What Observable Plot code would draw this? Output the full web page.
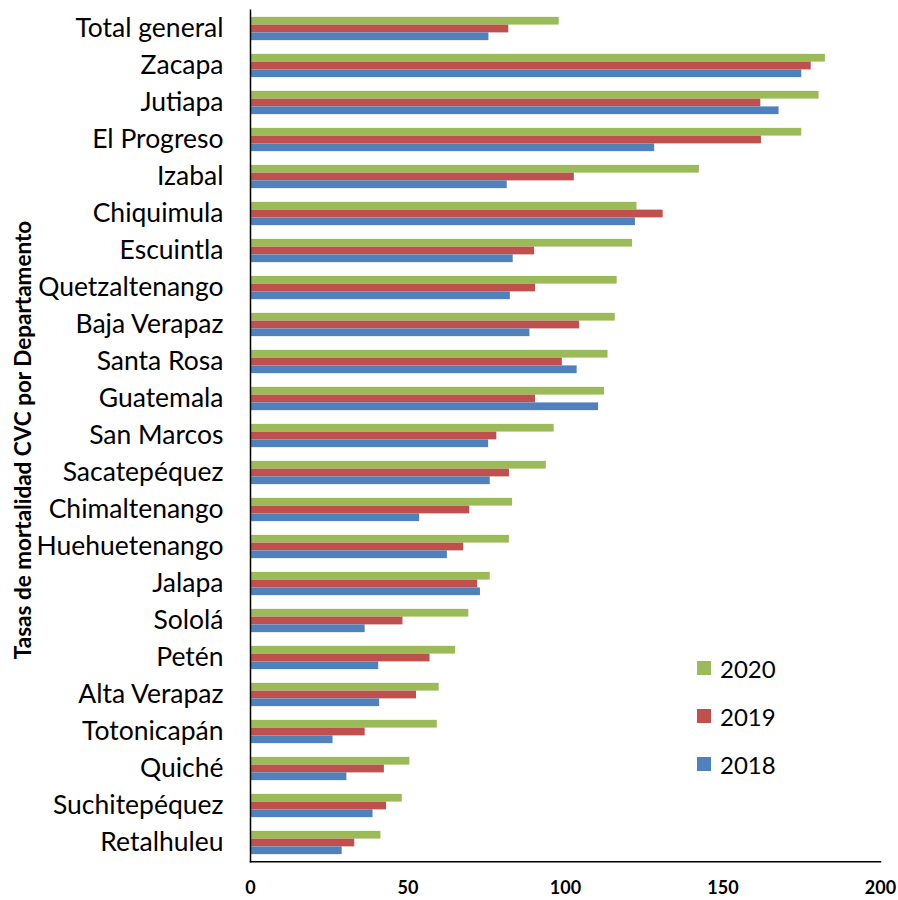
<!DOCTYPE html>
<html>
<head>
<meta charset="utf-8">
<script src="https://cdn.jsdelivr.net/npm/d3@7"></script>
<script src="https://cdn.jsdelivr.net/npm/@observablehq/plot@0.6"></script>
<style>
  html, body { margin: 0; padding: 0; background: #fff; }
  #wrap { position: relative; width: 898px; height: 900px; font-family: Lato, "Noto Sans", sans-serif; }
  #ytitle { position: absolute; left: 22px; top: 440px; transform: translate(-50%, -50%) rotate(-90deg); white-space: nowrap; font-weight: bold; font-size: 22.5px; color: #000; }
  .leg { position: absolute; left: 697px; display: flex; align-items: center; font-size: 24px; color: #000; }
  .leg span.sw { display: inline-block; width: 14px; height: 14px; margin-right: 9px; }
</style>
</head>
<body>
<div id="wrap"></div>
<script>
const departments = ["Total general","Zacapa","Jutiapa","El Progreso","Izabal","Chiquimula","Escuintla","Quetzaltenango","Baja Verapaz","Santa Rosa","Guatemala","San Marcos","Sacatepéquez","Chimaltenango","Huehuetenango","Jalapa","Sololá","Petén","Alta Verapaz","Totonicapán","Quiché","Suchitepéquez","Retalhuleu"];
const years = ["2020","2019","2018"];
const v2020 = [98, 182.5, 180.5, 175, 142.5, 122.7, 121.3, 116.4, 115.8, 113.5, 112.4, 96.4, 93.9, 83.2, 82.2, 76.1, 69.3, 65.1, 59.9, 59.3, 50.6, 48.2, 41.4];
const v2019 = [82, 178, 162, 162.2, 102.8, 131, 90.2, 90.5, 104.5, 99, 90.5, 78.2, 82.2, 69.6, 67.7, 72.1, 48.4, 57, 52.7, 36.4, 42.5, 43.2, 33.1];
const v2018 = [75.7, 175, 167.8, 128.3, 81.5, 122.2, 83.4, 82.5, 88.7, 103.7, 110.5, 75.6, 76.1, 53.7, 62.5, 73, 36.4, 40.7, 41, 26.2, 30.6, 38.9, 29.1];
const xTicks = [0, 50, 100, 150, 200];
const colors = {"2020": "#9BBB59", "2019": "#C0504D", "2018": "#4F81BD"};
const yTitle = "Tasas de mortalidad CVC por Departamento";

const W = 898, H = 900, mT = 9.7, mB = 38.7, mL = 250, mR = 18;
const band = (H - mT - mB) / departments.length;
const barH = band * 0.21;
const half = band / 2;
const series = {"2020": v2020, "2019": v2019, "2018": v2018};
const offsets = {"2020": -1.5, "2019": -0.5, "2018": 0.5};

const barMarks = years.map(yr => {
  const top = half + offsets[yr] * barH;
  return Plot.barX(departments, {
    x: (d, i) => series[yr][i],
    y: d => d,
    fill: colors[yr],
    insetTop: top,
    insetBottom: band - top - barH
  });
});

const chart = Plot.plot({
  width: W, height: H,
  marginTop: mT, marginBottom: mB, marginLeft: mL, marginRight: mR,
  style: {fontFamily: "Lato, 'Noto Sans', sans-serif", background: "#fff", color: "#000"},
  x: {domain: [0, 200], ticks: xTicks},
  y: {domain: departments, padding: 0},
  marks: [
    ...barMarks,
    Plot.frame({anchor: "left", stroke: "#000", strokeWidth: 1.5}),
    Plot.frame({anchor: "bottom", stroke: "#000", strokeWidth: 1.5}),
    Plot.axisX({ticks: xTicks, tickSize: 0, tickPadding: 19, fontSize: 18, fontWeight: "bold", label: null}),
    Plot.axisY({tickSize: 0, tickPadding: 27, fontSize: 26.5, label: null})
  ]
});
chart.querySelectorAll('[aria-label="x-axis tick label"] text').forEach(t => t.setAttribute("font-weight", "bold"));
const wrap = document.getElementById("wrap");
wrap.appendChild(chart);

const yt = document.createElement("div");
yt.id = "ytitle";
yt.textContent = yTitle;
wrap.appendChild(yt);

const legTops = {"2020": 668, "2019": 716, "2018": 764};
years.forEach(yr => {
  const d = document.createElement("div");
  d.className = "leg";
  d.style.top = (legTops[yr] - 14) + "px";
  d.style.height = "28px";
  d.innerHTML = `<span class="sw" style="background:${colors[yr]}"></span><span>${yr}</span>`;
  wrap.appendChild(d);
});
</script>
</body>
</html>
